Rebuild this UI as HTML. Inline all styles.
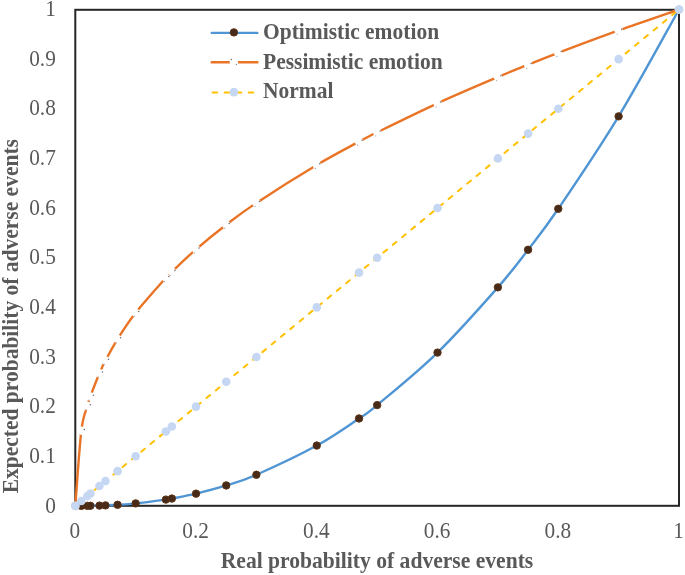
<!DOCTYPE html><html><head><meta charset="utf-8"><style>html,body{margin:0;padding:0;background:#fff;}svg{display:block;will-change:transform;}</style></head><body>
<svg width="685" height="575" viewBox="0 0 685 575">
<rect width="685" height="575" fill="#fff"/>
<rect x="75.3" y="9.8" width="603.7" height="496" fill="none" stroke="#262626" stroke-width="2"/>
<text transform="translate(55.8,512.50) scale(1,1.1)" text-anchor="end" font-family="'Liberation Serif', serif" font-size="21.3" fill="#595959">0</text>
<text transform="translate(55.8,462.86) scale(1,1.1)" text-anchor="end" font-family="'Liberation Serif', serif" font-size="21.3" fill="#595959">0.1</text>
<text transform="translate(55.8,413.22) scale(1,1.1)" text-anchor="end" font-family="'Liberation Serif', serif" font-size="21.3" fill="#595959">0.2</text>
<text transform="translate(55.8,363.58) scale(1,1.1)" text-anchor="end" font-family="'Liberation Serif', serif" font-size="21.3" fill="#595959">0.3</text>
<text transform="translate(55.8,313.94) scale(1,1.1)" text-anchor="end" font-family="'Liberation Serif', serif" font-size="21.3" fill="#595959">0.4</text>
<text transform="translate(55.8,264.30) scale(1,1.1)" text-anchor="end" font-family="'Liberation Serif', serif" font-size="21.3" fill="#595959">0.5</text>
<text transform="translate(55.8,214.66) scale(1,1.1)" text-anchor="end" font-family="'Liberation Serif', serif" font-size="21.3" fill="#595959">0.6</text>
<text transform="translate(55.8,165.02) scale(1,1.1)" text-anchor="end" font-family="'Liberation Serif', serif" font-size="21.3" fill="#595959">0.7</text>
<text transform="translate(55.8,115.38) scale(1,1.1)" text-anchor="end" font-family="'Liberation Serif', serif" font-size="21.3" fill="#595959">0.8</text>
<text transform="translate(55.8,65.74) scale(1,1.1)" text-anchor="end" font-family="'Liberation Serif', serif" font-size="21.3" fill="#595959">0.9</text>
<text transform="translate(55.8,16.10) scale(1,1.1)" text-anchor="end" font-family="'Liberation Serif', serif" font-size="21.3" fill="#595959">1</text>
<text transform="translate(74.90,538) scale(1,1.1)" text-anchor="middle" font-family="'Liberation Serif', serif" font-size="21.3" fill="#595959">0</text>
<text transform="translate(195.64,538) scale(1,1.1)" text-anchor="middle" font-family="'Liberation Serif', serif" font-size="21.3" fill="#595959">0.2</text>
<text transform="translate(316.38,538) scale(1,1.1)" text-anchor="middle" font-family="'Liberation Serif', serif" font-size="21.3" fill="#595959">0.4</text>
<text transform="translate(437.12,538) scale(1,1.1)" text-anchor="middle" font-family="'Liberation Serif', serif" font-size="21.3" fill="#595959">0.6</text>
<text transform="translate(557.86,538) scale(1,1.1)" text-anchor="middle" font-family="'Liberation Serif', serif" font-size="21.3" fill="#595959">0.8</text>
<text transform="translate(678.60,538) scale(1,1.1)" text-anchor="middle" font-family="'Liberation Serif', serif" font-size="21.3" fill="#595959">1</text>
<text transform="translate(377,567.5) scale(1,1.1)" text-anchor="middle" font-family="'Liberation Serif', serif" font-size="21.6" font-weight="bold" fill="#595959">Real probability of adverse events</text>
<text transform="translate(17.8,316.2) rotate(-90) scale(1,1.1)" x="0" y="0" text-anchor="middle" font-family="'Liberation Serif', serif" font-size="21.5" font-weight="bold" fill="#595959">Expected probability of adverse events</text>
<path d="M75.30,505.90 C76.31,505.90 79.32,505.90 81.34,505.89 C83.35,505.88 85.86,505.85 87.37,505.84 C88.88,505.82 88.38,505.84 90.39,505.80 C92.40,505.76 96.93,505.66 99.45,505.60 C101.96,505.53 102.47,505.53 105.48,505.39 C108.50,505.26 112.53,505.14 117.56,504.80 C122.59,504.47 127.62,504.28 135.67,503.41 C143.72,502.54 159.82,500.39 165.86,499.58 C171.89,498.77 166.86,499.55 171.89,498.57 C176.92,497.58 186.98,495.84 196.04,493.65 C205.10,491.46 216.16,488.58 226.23,485.43 C236.29,482.28 241.32,481.41 256.41,474.77 C271.50,468.12 299.68,454.95 316.78,445.56 C333.88,436.18 348.98,425.21 359.04,418.47 C369.10,411.73 364.07,416.08 377.15,405.10 C390.23,394.12 417.40,372.21 437.52,352.59 C457.64,332.96 482.80,304.48 497.89,287.35 C512.98,270.21 518.01,262.86 528.08,249.76 C538.14,236.67 543.17,231.01 558.26,208.78 C573.35,186.54 598.51,149.54 618.63,116.33 C638.75,83.11 668.94,27.30 679.00,9.50" fill="none" stroke="#5095D4" stroke-width="2.4" stroke-linejoin="round"/>
<circle cx="75.30" cy="505.90" r="3.7" fill="#472A17" stroke="#5C3418" stroke-width="1"/>
<circle cx="81.34" cy="505.89" r="3.7" fill="#472A17" stroke="#5C3418" stroke-width="1"/>
<circle cx="87.37" cy="505.84" r="3.7" fill="#472A17" stroke="#5C3418" stroke-width="1"/>
<circle cx="90.39" cy="505.80" r="3.7" fill="#472A17" stroke="#5C3418" stroke-width="1"/>
<circle cx="99.45" cy="505.60" r="3.7" fill="#472A17" stroke="#5C3418" stroke-width="1"/>
<circle cx="105.48" cy="505.39" r="3.7" fill="#472A17" stroke="#5C3418" stroke-width="1"/>
<circle cx="117.56" cy="504.80" r="3.7" fill="#472A17" stroke="#5C3418" stroke-width="1"/>
<circle cx="135.67" cy="503.41" r="3.7" fill="#472A17" stroke="#5C3418" stroke-width="1"/>
<circle cx="165.86" cy="499.58" r="3.7" fill="#472A17" stroke="#5C3418" stroke-width="1"/>
<circle cx="171.89" cy="498.57" r="3.7" fill="#472A17" stroke="#5C3418" stroke-width="1"/>
<circle cx="196.04" cy="493.65" r="3.7" fill="#472A17" stroke="#5C3418" stroke-width="1"/>
<circle cx="226.23" cy="485.43" r="3.7" fill="#472A17" stroke="#5C3418" stroke-width="1"/>
<circle cx="256.41" cy="474.77" r="3.7" fill="#472A17" stroke="#5C3418" stroke-width="1"/>
<circle cx="316.78" cy="445.56" r="3.7" fill="#472A17" stroke="#5C3418" stroke-width="1"/>
<circle cx="359.04" cy="418.47" r="3.7" fill="#472A17" stroke="#5C3418" stroke-width="1"/>
<circle cx="377.15" cy="405.10" r="3.7" fill="#472A17" stroke="#5C3418" stroke-width="1"/>
<circle cx="437.52" cy="352.59" r="3.7" fill="#472A17" stroke="#5C3418" stroke-width="1"/>
<circle cx="497.89" cy="287.35" r="3.7" fill="#472A17" stroke="#5C3418" stroke-width="1"/>
<circle cx="528.08" cy="249.76" r="3.7" fill="#472A17" stroke="#5C3418" stroke-width="1"/>
<circle cx="558.26" cy="208.78" r="3.7" fill="#472A17" stroke="#5C3418" stroke-width="1"/>
<circle cx="618.63" cy="116.33" r="3.7" fill="#472A17" stroke="#5C3418" stroke-width="1"/>
<circle cx="679.00" cy="9.50" r="3.7" fill="#472A17" stroke="#5C3418" stroke-width="1"/>
<path d="M75.30,505.90 C76.31,493.38 79.32,447.40 81.34,430.77 C83.35,414.13 85.86,411.78 87.37,406.07 C88.88,400.36 88.38,401.98 90.39,396.51 C92.40,391.04 96.93,379.25 99.45,373.26 C101.96,367.27 102.47,366.25 105.48,360.55 C108.50,354.85 112.53,347.01 117.56,339.05 C122.59,331.09 127.62,322.98 135.67,312.78 C143.72,302.58 159.82,284.69 165.86,277.85 C171.89,271.01 166.86,276.49 171.89,271.74 C176.92,266.98 186.98,257.14 196.04,249.30 C205.10,241.47 216.16,232.45 226.23,224.72 C236.29,216.98 241.32,212.85 256.41,202.89 C271.50,192.93 299.68,175.17 316.78,164.96 C333.88,154.76 348.98,147.10 359.04,141.66 C369.10,136.21 364.07,138.69 377.15,132.30 C390.23,125.91 417.40,112.51 437.52,103.30 C457.64,94.09 482.80,83.46 497.89,77.03 C512.98,70.61 518.01,68.75 528.08,64.73 C538.14,60.71 543.17,58.61 558.26,52.90 C573.35,47.19 598.51,37.72 618.63,30.49 C638.75,23.25 668.94,13.00 679.00,9.50" fill="none" stroke="#EA7426" stroke-width="2.4" stroke-linejoin="round"/>
<circle cx="75.30" cy="505.90" r="4.2" fill="#fff"/>
<circle cx="81.34" cy="430.77" r="4.2" fill="#fff"/>
<circle cx="87.37" cy="406.07" r="4.2" fill="#fff"/>
<circle cx="90.39" cy="396.51" r="4.2" fill="#fff"/>
<circle cx="99.45" cy="373.26" r="4.2" fill="#fff"/>
<circle cx="105.48" cy="360.55" r="4.2" fill="#fff"/>
<circle cx="117.56" cy="339.05" r="4.2" fill="#fff"/>
<circle cx="135.67" cy="312.78" r="4.2" fill="#fff"/>
<circle cx="165.86" cy="277.85" r="4.2" fill="#fff"/>
<circle cx="171.89" cy="271.74" r="4.2" fill="#fff"/>
<circle cx="196.04" cy="249.30" r="4.2" fill="#fff"/>
<circle cx="226.23" cy="224.72" r="4.2" fill="#fff"/>
<circle cx="256.41" cy="202.89" r="4.2" fill="#fff"/>
<circle cx="316.78" cy="164.96" r="4.2" fill="#fff"/>
<circle cx="359.04" cy="141.66" r="4.2" fill="#fff"/>
<circle cx="377.15" cy="132.30" r="4.2" fill="#fff"/>
<circle cx="437.52" cy="103.30" r="4.2" fill="#fff"/>
<circle cx="497.89" cy="77.03" r="4.2" fill="#fff"/>
<circle cx="528.08" cy="64.73" r="4.2" fill="#fff"/>
<circle cx="558.26" cy="52.90" r="4.2" fill="#fff"/>
<circle cx="618.63" cy="30.49" r="4.2" fill="#fff"/>
<circle cx="679.00" cy="9.50" r="4.2" fill="#fff"/>
<circle cx="84.34" cy="429.47" r="0.75" fill="#6a6a6a"/>
<circle cx="79.94" cy="434.37" r="0.7" fill="#aab2bc"/>
<circle cx="90.37" cy="404.77" r="0.75" fill="#6a6a6a"/>
<circle cx="85.97" cy="409.67" r="0.7" fill="#aab2bc"/>
<circle cx="93.39" cy="395.21" r="0.75" fill="#6a6a6a"/>
<circle cx="88.99" cy="400.11" r="0.7" fill="#aab2bc"/>
<circle cx="102.45" cy="371.96" r="0.75" fill="#6a6a6a"/>
<circle cx="98.05" cy="376.86" r="0.7" fill="#aab2bc"/>
<circle cx="108.48" cy="359.25" r="0.75" fill="#6a6a6a"/>
<circle cx="104.08" cy="364.15" r="0.7" fill="#aab2bc"/>
<circle cx="120.56" cy="337.75" r="0.75" fill="#6a6a6a"/>
<circle cx="116.16" cy="342.65" r="0.7" fill="#aab2bc"/>
<circle cx="138.67" cy="311.48" r="0.75" fill="#6a6a6a"/>
<circle cx="134.27" cy="316.38" r="0.7" fill="#aab2bc"/>
<circle cx="168.86" cy="276.55" r="0.75" fill="#6a6a6a"/>
<circle cx="164.46" cy="281.45" r="0.7" fill="#aab2bc"/>
<circle cx="174.89" cy="270.44" r="0.75" fill="#6a6a6a"/>
<circle cx="170.49" cy="275.34" r="0.7" fill="#aab2bc"/>
<circle cx="199.04" cy="248.00" r="0.75" fill="#6a6a6a"/>
<circle cx="194.64" cy="252.90" r="0.7" fill="#aab2bc"/>
<circle cx="229.23" cy="223.42" r="0.75" fill="#6a6a6a"/>
<circle cx="224.83" cy="228.32" r="0.7" fill="#aab2bc"/>
<circle cx="259.41" cy="201.59" r="0.75" fill="#6a6a6a"/>
<circle cx="255.01" cy="206.49" r="0.7" fill="#aab2bc"/>
<circle cx="319.78" cy="163.66" r="0.75" fill="#6a6a6a"/>
<circle cx="315.38" cy="168.56" r="0.7" fill="#aab2bc"/>
<circle cx="362.04" cy="140.36" r="0.75" fill="#6a6a6a"/>
<circle cx="357.64" cy="145.26" r="0.7" fill="#aab2bc"/>
<circle cx="380.15" cy="131.00" r="0.75" fill="#6a6a6a"/>
<circle cx="375.75" cy="135.90" r="0.7" fill="#aab2bc"/>
<circle cx="440.52" cy="102.00" r="0.75" fill="#6a6a6a"/>
<circle cx="436.12" cy="106.90" r="0.7" fill="#aab2bc"/>
<circle cx="500.89" cy="75.73" r="0.75" fill="#6a6a6a"/>
<circle cx="496.49" cy="80.63" r="0.7" fill="#aab2bc"/>
<circle cx="531.08" cy="63.43" r="0.75" fill="#6a6a6a"/>
<circle cx="526.68" cy="68.33" r="0.7" fill="#aab2bc"/>
<circle cx="561.26" cy="51.60" r="0.75" fill="#6a6a6a"/>
<circle cx="556.86" cy="56.50" r="0.7" fill="#aab2bc"/>
<circle cx="621.63" cy="29.19" r="0.75" fill="#6a6a6a"/>
<circle cx="617.23" cy="34.09" r="0.7" fill="#aab2bc"/>
<path d="M75.3,505.9 L679.0,9.5" fill="none" stroke="#FFC000" stroke-width="2" stroke-linecap="round" stroke-dasharray="4.6 7.46" stroke-dashoffset="-0.95"/>
<circle cx="75.30" cy="505.90" r="4.3" fill="#C6D7F4"/>
<circle cx="81.34" cy="500.94" r="4.3" fill="#C6D7F4"/>
<circle cx="87.37" cy="495.97" r="4.3" fill="#C6D7F4"/>
<circle cx="90.39" cy="493.49" r="4.3" fill="#C6D7F4"/>
<circle cx="99.45" cy="486.04" r="4.3" fill="#C6D7F4"/>
<circle cx="105.48" cy="481.08" r="4.3" fill="#C6D7F4"/>
<circle cx="117.56" cy="471.15" r="4.3" fill="#C6D7F4"/>
<circle cx="135.67" cy="456.26" r="4.3" fill="#C6D7F4"/>
<circle cx="165.86" cy="431.44" r="4.3" fill="#C6D7F4"/>
<circle cx="171.89" cy="426.48" r="4.3" fill="#C6D7F4"/>
<circle cx="196.04" cy="406.62" r="4.3" fill="#C6D7F4"/>
<circle cx="226.23" cy="381.80" r="4.3" fill="#C6D7F4"/>
<circle cx="256.41" cy="356.98" r="4.3" fill="#C6D7F4"/>
<circle cx="316.78" cy="307.34" r="4.3" fill="#C6D7F4"/>
<circle cx="359.04" cy="272.59" r="4.3" fill="#C6D7F4"/>
<circle cx="377.15" cy="257.70" r="4.3" fill="#C6D7F4"/>
<circle cx="437.52" cy="208.06" r="4.3" fill="#C6D7F4"/>
<circle cx="497.89" cy="158.42" r="4.3" fill="#C6D7F4"/>
<circle cx="528.08" cy="133.60" r="4.3" fill="#C6D7F4"/>
<circle cx="558.26" cy="108.78" r="4.3" fill="#C6D7F4"/>
<circle cx="618.63" cy="59.14" r="4.3" fill="#C6D7F4"/>
<circle cx="679.00" cy="9.50" r="4.3" fill="#C6D7F4"/>
<line x1="211.8" y1="32.9" x2="257.3" y2="32.9" stroke="#5095D4" stroke-width="2.4" stroke-linecap="round"/>
<circle cx="233.9" cy="32.4" r="3.7" fill="#472A17" stroke="#5C3418" stroke-width="1"/>
<line x1="210.7" y1="62.2" x2="258.4" y2="62.2" stroke="#EA7426" stroke-width="2.4"/>
<circle cx="233.9" cy="62.2" r="4.2" fill="#fff"/>
<circle cx="231.3" cy="59.400000000000006" r="0.75" fill="#6a6a6a"/>
<circle cx="236.4" cy="64.4" r="0.7" fill="#888"/>
<line x1="211.6" y1="92.5" x2="258.4" y2="92.5" stroke="#FFC000" stroke-width="2" stroke-linecap="round" stroke-dasharray="4.6 7.46" stroke-dashoffset="-0.95"/>
<circle cx="233.9" cy="92.1" r="4.3" fill="#C6D7F4"/>
<text transform="translate(263,39.3) scale(1,1.1)" font-family="'Liberation Serif', serif" font-size="21.5" font-weight="bold" fill="#595959">Optimistic emotion</text>
<text transform="translate(263,68.5) scale(1,1.1)" font-family="'Liberation Serif', serif" font-size="21.5" font-weight="bold" fill="#595959">Pessimistic emotion</text>
<text transform="translate(263,97.7) scale(1,1.1)" font-family="'Liberation Serif', serif" font-size="21.5" font-weight="bold" fill="#595959">Normal</text>
</svg></body></html>
